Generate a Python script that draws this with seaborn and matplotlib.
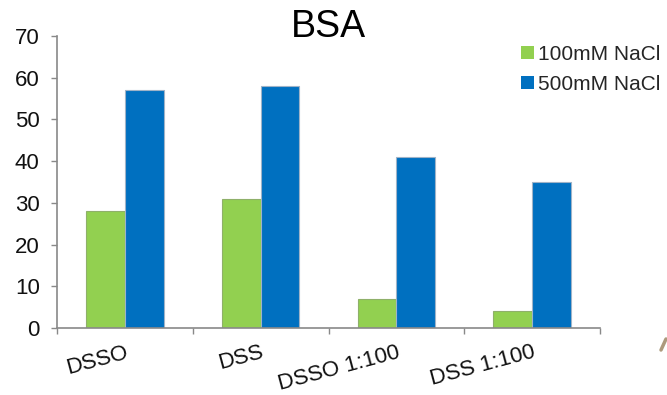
import matplotlib
matplotlib.use("Agg")
import matplotlib.pyplot as plt
from matplotlib.lines import Line2D
import seaborn as sns
import pandas as pd

categories = ["DSSO", "DSS", "DSSO 1:100", "DSS 1:100"]
series_names = ["100mM NaCl", "500mM NaCl"]
values_100mm = [28, 31, 7, 4]
values_500mm = [57, 58, 41, 35]
y_ticks = [0, 10, 20, 30, 40, 50, 60, 70]
title = "BSA"

colors = ["#92D050", "#0070C0"]
edge_colors = ["#8fb06a", "#9fb3c8"]

df = pd.DataFrame({
    "category": categories * 2,
    "condition": [series_names[0]] * len(categories) + [series_names[1]] * len(categories),
    "value": values_100mm + values_500mm,
})

sns.set_theme(style="white")
plt.rcParams["font.family"] = ["Liberation Sans", "DejaVu Sans"]

fig = plt.figure(figsize=(6.67, 3.95), dpi=100)
ax = fig.add_axes([0.0855, 0.1696, 0.8141, 0.7393])

sns.barplot(data=df, x="category", y="value", hue="condition",
            order=categories, hue_order=series_names,
            palette=colors, width=0.57, saturation=1, ax=ax,
            errorbar=None, legend=True)

# thin outlines on the bars
for container, ec in zip(ax.containers, edge_colors):
    for bar in container:
        bar.set_edgecolor(ec)
        bar.set_linewidth(0.8)

ax.set_xlim(-0.5, len(categories) - 0.5)
ax.set_ylim(0, 70)
ax.set_yticks(y_ticks)
ax.set_yticklabels([str(t) for t in y_ticks], fontsize=16, color="#111111")

# category boundaries carry the tick marks; labels sit at the centres
ax.set_xticks([i - 0.5 for i in range(len(categories) + 1)])
ax.set_xticklabels([])
ax.set_xticks(range(len(categories)), minor=True)
ax.set_xticklabels(categories, minor=True, rotation=15, ha="right",
                   rotation_mode="anchor", fontsize=16, color="#111111")
ax.tick_params(axis="x", which="major", direction="out", length=4.5,
               width=1, color="#898989", bottom=True)
ax.tick_params(axis="x", which="minor", length=0, pad=10)
ax.tick_params(axis="y", direction="out", length=4.5, width=1,
               color="#898989", left=True, pad=8)

ax.set_xlabel("")
ax.set_ylabel("")
for side in ["top", "right"]:
    ax.spines[side].set_visible(False)
for side in ["left", "bottom"]:
    ax.spines[side].set_color("#898989")
    ax.spines[side].set_linewidth(1.2)

leg = ax.legend(loc="upper left", bbox_to_anchor=(0.840, 0.997),
                frameon=False, fontsize=15, handlelength=0.6,
                handleheight=0.6, handletextpad=0.2, labelspacing=0.5,
                borderaxespad=0)
for h in leg.legend_handles:
    h.set_edgecolor("none")

fig.text(0.4925, 0.907, title, ha="center", va="baseline", fontsize=27,
         color="#000000")

# small brown stroke at the lower right edge
fig.add_artist(Line2D([661 / 667, 666 / 667], [1 - 350 / 395, 1 - 339 / 395],
                      transform=fig.transFigure, color="#8a7046",
                      linewidth=2.5, alpha=0.7, solid_capstyle="round"))

fig.savefig("out.png", dpi=100)
